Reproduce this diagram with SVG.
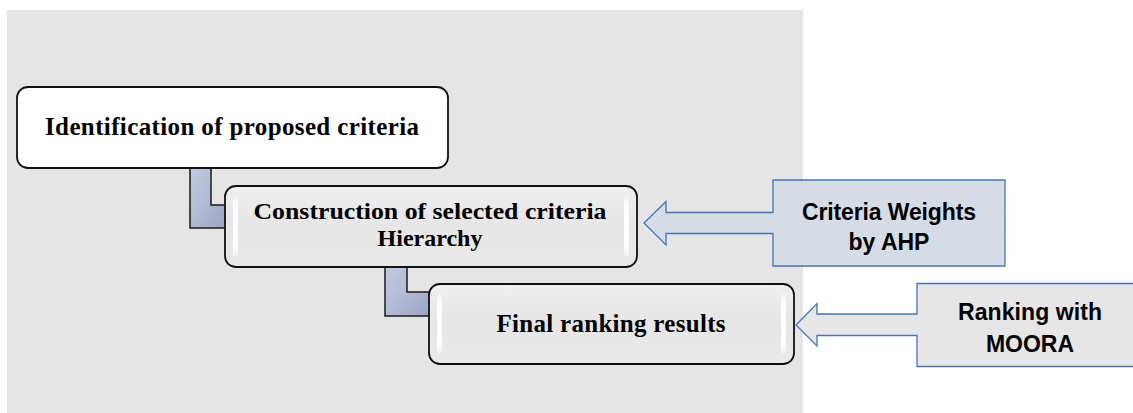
<svg xmlns="http://www.w3.org/2000/svg" width="1133" height="413" viewBox="0 0 1133 413">
  <defs>
    <style>
      .serif { font-family: "Liberation Serif", "Times New Roman", serif; font-weight: bold; fill: #000; text-anchor: middle; }
      .sans { font-family: "Liberation Sans", Arial, sans-serif; font-weight: bold; fill: #000; text-anchor: middle; }
      .box { stroke: #111; stroke-width: 1.8; }
      .conn { fill: url(#connGrad); stroke: #1a1a1a; stroke-width: 1.5; stroke-linejoin: miter; }
      .callout { stroke: #4472c4; stroke-width: 1.3; }
      .gloss { fill: url(#glossGrad); }
    </style>
    <linearGradient id="connGrad" x1="0" y1="0" x2="1" y2="1">
      <stop offset="0" stop-color="#c3cae2"/>
      <stop offset="0.5" stop-color="#b2bad5"/>
      <stop offset="1" stop-color="#9aa3c2"/>
    </linearGradient>
    <linearGradient id="boxGrad" x1="0" y1="0" x2="0" y2="1">
      <stop offset="0" stop-color="#efefef"/>
      <stop offset="0.5" stop-color="#e6e6e6"/>
      <stop offset="1" stop-color="#eaeaea"/>
    </linearGradient>
    <linearGradient id="glossGrad" x1="0" y1="0" x2="0" y2="1">
      <stop offset="0" stop-color="#ffffff" stop-opacity="0.3"/>
      <stop offset="0.2" stop-color="#ffffff" stop-opacity="1"/>
      <stop offset="0.8" stop-color="#ffffff" stop-opacity="1"/>
      <stop offset="1" stop-color="#ffffff" stop-opacity="0.3"/>
    </linearGradient>
  </defs>

  <rect x="7" y="10" width="796" height="403" fill="#e5e5e5"/>

  <g id="connectors">
    <path class="conn" d="M190,168 H211 V205 H226 V228 H190 Z"/>
    <path class="conn" d="M385,267 H407 V292 H430 V316 H385 Z"/>
    <path id="arrow-ahp" class="callout" fill="#d6dce5" d="M773,180 H1005 V266 H773 V233.5 H666 V245 L644,223 L666,201.5 V212.5 H773 Z"/>
    <path id="arrow-moora" class="callout" fill="#e6e6e6" d="M917,283.5 H1145 V366.5 H917 V335.5 H817 V346 L796,325 L817,303.5 V314 H917 Z"/>
  </g>

  <g id="node-identification">
    <rect class="box" x="17" y="87" width="431" height="81" rx="11" fill="#ffffff"/>
    <text class="serif" x="232" y="135" font-size="25" textLength="374">Identification of proposed criteria</text>
  </g>

  <g id="node-construction">
    <rect class="box" x="225" y="186" width="412" height="81" rx="11" fill="url(#boxGrad)"/>
    <rect class="gloss" x="233" y="196" width="5" height="61" rx="2.5"/>
    <rect class="gloss" x="624" y="196" width="5" height="61" rx="2.5"/>
    <text class="serif" x="430" y="219" font-size="24" textLength="353" lengthAdjust="spacingAndGlyphs">Construction of selected criteria</text>
    <text class="serif" x="430" y="246" font-size="24">Hierarchy</text>
  </g>

  <g id="node-final">
    <rect class="box" x="429" y="284" width="365" height="80" rx="11" fill="url(#boxGrad)"/>
    <rect class="gloss" x="437" y="294" width="5" height="60" rx="2.5"/>
    <rect class="gloss" x="781" y="294" width="5" height="60" rx="2.5"/>
    <text class="serif" x="611" y="332" font-size="25" textLength="229">Final ranking results</text>
  </g>

  <g id="node-ahp">
    <text class="sans" x="889" y="220" font-size="23" textLength="174">Criteria Weights</text>
    <text class="sans" x="889" y="250" font-size="23">by AHP</text>
  </g>

  <g id="node-moora">
    <text class="sans" x="1030" y="320" font-size="23" textLength="144">Ranking with</text>
    <text class="sans" x="1030" y="352" font-size="23">MOORA</text>
  </g>
</svg>
